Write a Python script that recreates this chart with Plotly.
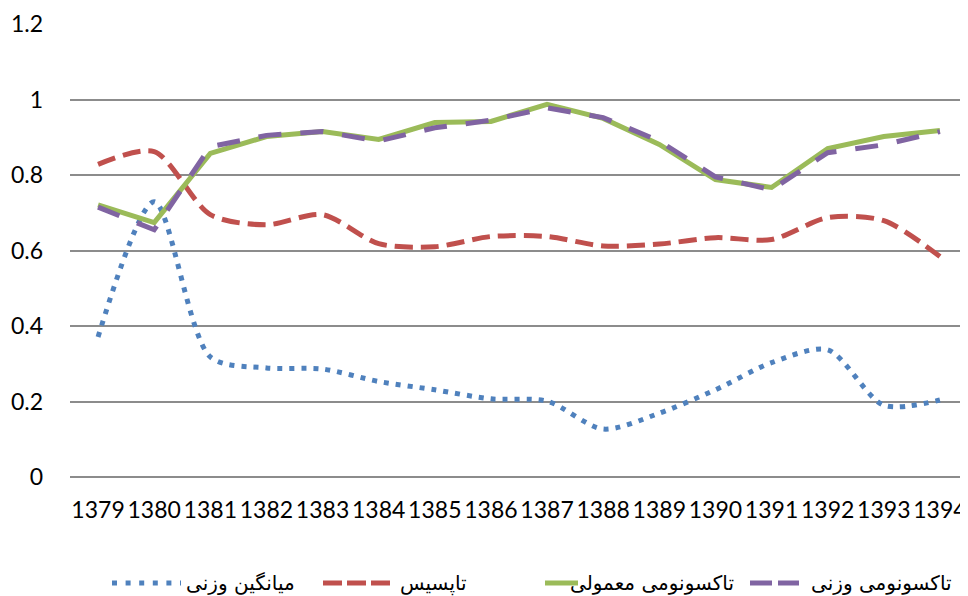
import plotly.graph_objects as go

years = ["1379", "1380", "1381", "1382", "1383", "1384", "1385", "1386",
         "1387", "1388", "1389", "1390", "1391", "1392", "1393", "1394"]

weighted_mean = [0.371, 0.729, 0.318, 0.289, 0.286, 0.253, 0.231, 0.207,
                 0.201, 0.127, 0.169, 0.231, 0.303, 0.337, 0.190, 0.204]
topsis = [0.828, 0.862, 0.695, 0.668, 0.695, 0.618, 0.610, 0.637,
          0.637, 0.612, 0.617, 0.634, 0.629, 0.687, 0.679, 0.584]
taxonomy_normal = [0.721, 0.674, 0.857, 0.902, 0.915, 0.894, 0.939, 0.942,
                   0.987, 0.950, 0.881, 0.788, 0.767, 0.870, 0.902, 0.918]
taxonomy_weighted = [0.715, 0.655, 0.875, 0.905, 0.915, 0.890, 0.925, 0.945,
                     0.978, 0.952, 0.890, 0.795, 0.761, 0.859, 0.880, 0.915]

names = ["میانگین وزنی", "تاپسیس", "تاکسونومی معمولی", "تاکسونومی وزنی"]
colors = ["#4F81BD", "#C0504D", "#9BBB59", "#8064A2"]
y_ticks = [0, 0.2, 0.4, 0.6, 0.8, 1, 1.2]
y_tick_text = ["0", "0.2", "0.4", "0.6", "0.8", "1", "1.2"]

# layout geometry: the page body has an 8px margin, so the figure is drawn
# at (8, 8) inside the 968x596 window.
OFF = 8
W, H = 968 - OFF, 596 - OFF
PLOT_L, PLOT_R, PLOT_T, PLOT_B = 70, 968, 24, 477   # target page pixels
ML, MR = PLOT_L - OFF, (W + OFF) - PLOT_R
MT, MB = PLOT_T - OFF, (H + OFF) - PLOT_B
PW, PH = PLOT_R - PLOT_L, PLOT_B - PLOT_T


def px_x(p):
    return (p - PLOT_L) / PW


def px_y(p):
    return (PLOT_B - p) / PH


fig = go.Figure()
fig.add_trace(go.Scatter(x=years, y=weighted_mean, name=names[0], mode="lines",
                         line=dict(color=colors[0], width=5, dash="5px,7px",
                                   shape="spline", smoothing=0.8)))
fig.add_trace(go.Scatter(x=years, y=topsis, name=names[1], mode="lines",
                         line=dict(color=colors[1], width=5, dash="18px,8px",
                                   shape="spline", smoothing=0.8)))
fig.add_trace(go.Scatter(x=years, y=taxonomy_normal, name=names[2], mode="lines",
                         line=dict(color=colors[2], width=5)))
fig.add_trace(go.Scatter(x=years, y=taxonomy_weighted, name=names[3], mode="lines",
                         line=dict(color=colors[3], width=5, dash="23px,19px")))

# custom legend (symbol samples + labels) below the plot, in page pixels
legend_y = px_y(583)
legend_items = [
    # (symbol start, symbol end, dash, text centre)
    (112, 181, "5px,8.6px", 240),
    (323, 391, "19px,5px", 433),
    (545, 578, "solid", 652),
    (750, 799, "22px,6px", 881),
]
shapes = []
annotations = []
for (x0, x1, dash, tx), name, col in zip(legend_items, names, colors):
    shapes.append(dict(type="line", xref="paper", yref="paper",
                       x0=px_x(x0), x1=px_x(x1), y0=legend_y, y1=legend_y,
                       line=dict(color=col, width=5, dash=dash)))
    annotations.append(dict(xref="paper", yref="paper", x=px_x(tx), y=legend_y,
                            xanchor="center", yanchor="middle", showarrow=False,
                            text=name,
                            font=dict(family="DejaVu Sans", size=20, color="#000000")))

fig.update_layout(
    width=W, height=H,
    margin=dict(l=ML, r=MR, t=MT, b=MB),
    paper_bgcolor="white", plot_bgcolor="white",
    font=dict(family="Lato", size=23, color="#000000"),
    showlegend=False,
    shapes=shapes,
    annotations=annotations,
)
fig.update_xaxes(type="category", range=[-0.5, 15.5], showgrid=False,
                 showline=False, ticks="", tickfont=dict(size=23),
                 ticklabelstandoff=17, automargin=False)
fig.update_yaxes(range=[0, 1.2], tickvals=y_ticks, ticktext=y_tick_text,
                 showgrid=True, gridcolor="#8C8C8C", gridwidth=1.5,
                 zeroline=True, zerolinecolor="#8C8C8C", zerolinewidth=1.5,
                 showline=False, ticks="", ticklabelstandoff=26,
                 tickfont=dict(size=23), automargin=False)

fig.write_html("out.html")
